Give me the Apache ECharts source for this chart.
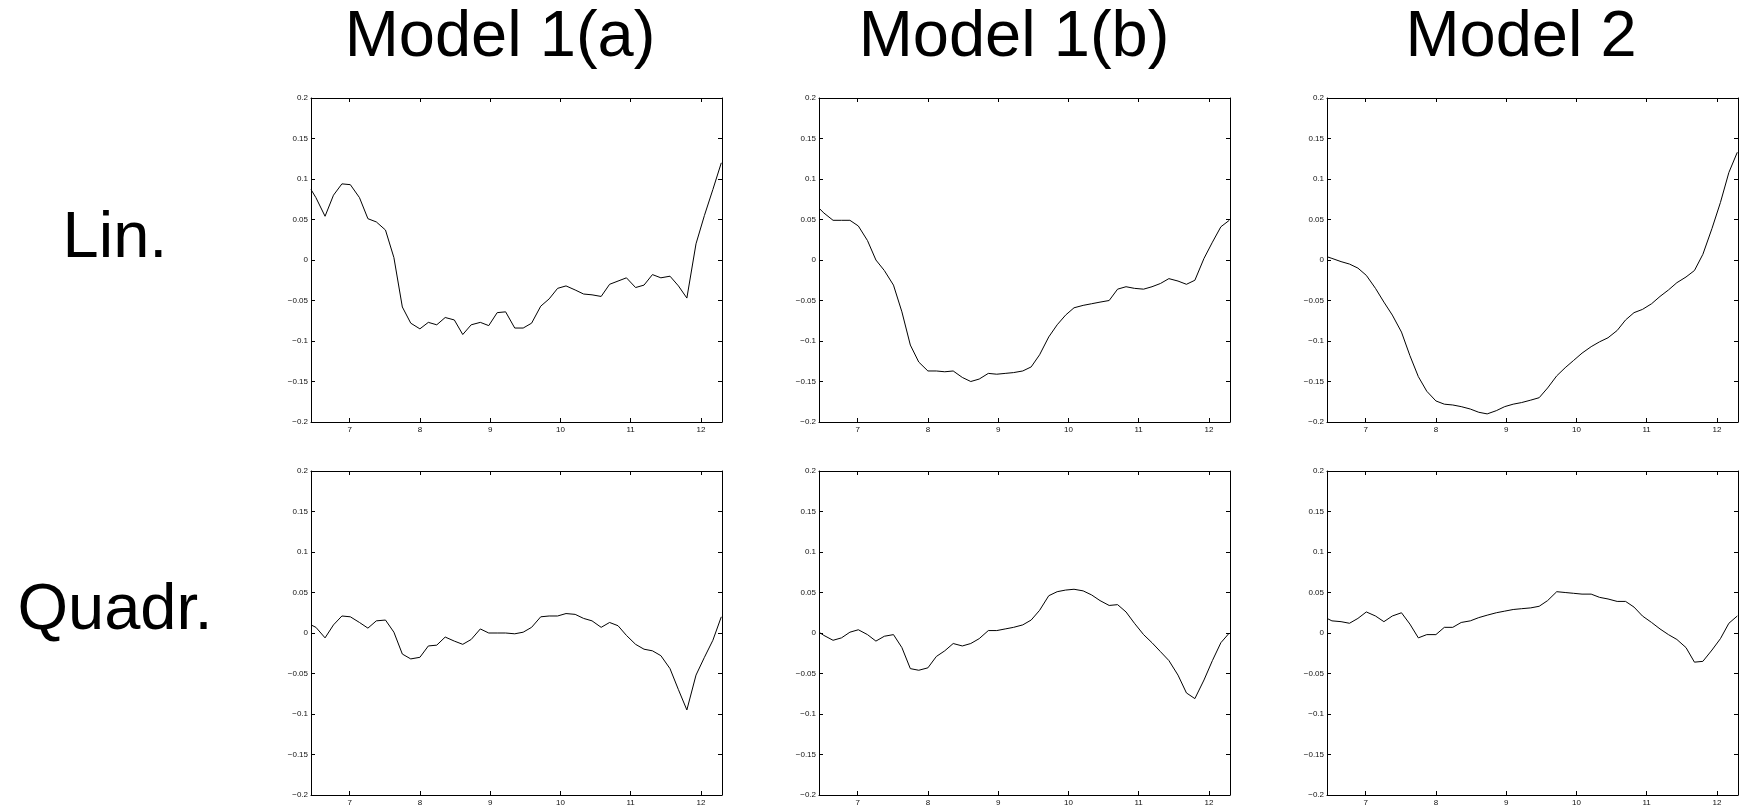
<!DOCTYPE html>
<html>
<head>
<meta charset="utf-8">
<script src="https://cdn.jsdelivr.net/npm/echarts@6/dist/echarts.min.js"></script>
<style>
  html, body { margin: 0; background: #fff; }
  #chart { width: 1744px; height: 808px; }
</style>
</head>
<body>
<div id="chart"></div>
<script>
// shared x positions
const xs = [6.45, 6.52, 6.65, 6.77, 6.89, 7.01, 7.14, 7.26, 7.38, 7.51, 7.63, 7.75, 7.87, 8.00,
  8.12, 8.24, 8.36, 8.49, 8.61, 8.73, 8.86, 8.98, 9.10, 9.22, 9.35, 9.47, 9.59, 9.72, 9.84, 9.96,
  10.08, 10.21, 10.33, 10.45, 10.58, 10.70, 10.82, 10.94, 11.07, 11.19, 11.31, 11.43, 11.56,
  11.68, 11.80, 11.93, 12.05, 12.17, 12.29];

const xTicks = [7, 8, 9, 10, 11, 12];
const yTicks = [-0.2, -0.15, -0.1, -0.05, 0, 0.05, 0.1, 0.15, 0.2];
const colTitles = ["Model 1(a)", "Model 1(b)", "Model 2"];
const rowTitles = ["Lin.", "Quadr."];

// Lin. row
const linA = [0.087, 0.077, 0.054, 0.080, 0.094, 0.093, 0.077, 0.051, 0.047, 0.037, 0.003, -0.058,
  -0.078, -0.085, -0.077, -0.080, -0.071, -0.074, -0.092, -0.080, -0.077, -0.081, -0.065, -0.064,
  -0.084, -0.084, -0.078, -0.057, -0.048, -0.035, -0.032, -0.037, -0.042, -0.043, -0.045, -0.030,
  -0.026, -0.022, -0.034, -0.031, -0.018, -0.022, -0.020, -0.032, -0.047, 0.020, 0.055, 0.087, 0.120];
const linB = [0.064, 0.058, 0.049, 0.049, 0.049, 0.042, 0.024, 0.000, -0.013, -0.031, -0.064, -0.105,
  -0.126, -0.137, -0.137, -0.138, -0.137, -0.145, -0.150, -0.147, -0.140, -0.141, -0.140, -0.139,
  -0.137, -0.132, -0.117, -0.095, -0.080, -0.068, -0.059, -0.056, -0.054, -0.052, -0.050, -0.036,
  -0.033, -0.035, -0.036, -0.033, -0.029, -0.023, -0.026, -0.030, -0.025, 0.002, 0.022, 0.041, 0.049];
const linM2 = [0.004, 0.002, -0.002, -0.005, -0.010, -0.019, -0.035, -0.052, -0.068, -0.089, -0.118,
  -0.144, -0.162, -0.174, -0.178, -0.179, -0.181, -0.184, -0.188, -0.190, -0.186, -0.181, -0.178,
  -0.176, -0.173, -0.170, -0.158, -0.143, -0.133, -0.124, -0.115, -0.107, -0.101, -0.096, -0.087,
  -0.074, -0.065, -0.061, -0.054, -0.045, -0.037, -0.028, -0.021, -0.013, 0.007, 0.039, 0.071, 0.108, 0.133];

// Quadr. row
const quadA = [0.010, 0.007, -0.006, 0.010, 0.021, 0.020, 0.013, 0.006, 0.015, 0.016, 0.001, -0.026,
  -0.032, -0.030, -0.016, -0.015, -0.005, -0.010, -0.014, -0.008, 0.005, 0.000, 0.000, 0.000,
  -0.001, 0.001, 0.007, 0.020, 0.021, 0.021, 0.024, 0.023, 0.018, 0.015, 0.007, 0.013, 0.009,
  -0.003, -0.014, -0.020, -0.022, -0.028, -0.044, -0.070, -0.095, -0.052, -0.030, -0.009, 0.020];
const quadB = [0.001, -0.003, -0.009, -0.006, 0.001, 0.004, -0.002, -0.010, -0.004, -0.002, -0.018,
  -0.044, -0.046, -0.043, -0.029, -0.022, -0.013, -0.016, -0.013, -0.007, 0.003, 0.003, 0.005,
  0.007, 0.010, 0.016, 0.028, 0.046, 0.051, 0.053, 0.054, 0.052, 0.047, 0.040, 0.034, 0.035, 0.026,
  0.012, -0.002, -0.012, -0.023, -0.034, -0.052, -0.074, -0.081, -0.058, -0.034, -0.012, 0.000];
const quadM2 = [0.018, 0.015, 0.014, 0.012, 0.018, 0.026, 0.021, 0.014, 0.021, 0.025, 0.011, -0.006,
  -0.002, -0.002, 0.007, 0.007, 0.013, 0.015, 0.019, 0.022, 0.025, 0.027, 0.029, 0.030, 0.031,
  0.033, 0.040, 0.051, 0.050, 0.049, 0.048, 0.048, 0.044, 0.042, 0.039, 0.039, 0.032, 0.021, 0.013,
  0.005, -0.002, -0.008, -0.018, -0.036, -0.035, -0.021, -0.007, 0.012, 0.021];

const panels = [linA, linB, linM2, quadA, quadB, quadM2];

const lefts = [311, 819, 1327];
const tops = [98, 471];
const W = 411, H = 324;
const titleX = [500, 1014, 1521];
const rowY = [239, 611];
const font = "Liberation Sans";

const lineStyle = { color: "#000", width: 1 };

function yLabel(v) {
  const r = Math.round(v * 100) / 100;
  return r < 0 ? "\u2212" + (-r) : String(r);
}

const grid = [], xAxis = [], yAxis = [], series = [];
panels.forEach((data, i) => {
  const row = Math.floor(i / 3), col = i % 3;
  grid.push({ left: lefts[col], top: tops[row], width: W, height: H });
  // bottom + top x axes
  ["bottom", "top"].forEach((pos) => {
    xAxis.push({
      type: "value", gridIndex: i, position: pos, min: 6.45, max: 12.3,
      axisLine: { show: true, onZero: false, lineStyle },
      axisTick: { show: true, inside: true, length: 4, lineStyle, customValues: xTicks },
      axisLabel: {
        show: pos === "bottom", customValues: xTicks, margin: 4,
        fontSize: 8, color: "#111", fontFamily: font,
      },
      splitLine: { show: false },
    });
  });
  ["left", "right"].forEach((pos) => {
    yAxis.push({
      type: "value", gridIndex: i, position: pos, min: -0.2, max: 0.2, interval: 0.05,
      axisLine: { show: true, onZero: false, lineStyle },
      axisTick: { show: true, inside: true, length: 4, lineStyle },
      axisLabel: {
        show: pos === "left", margin: 3, fontSize: 8, color: "#111", fontFamily: font,
        formatter: yLabel,
      },
      splitLine: { show: false },
    });
  });
  series.push({
    type: "line",
    xAxisIndex: 2 * i,
    yAxisIndex: 2 * i,
    data: xs.map((x, j) => [x, data[j]]),
    showSymbol: false,
    lineStyle: { color: "#000", width: 1 },
    clip: true,
  });
});

const graphic = [];
colTitles.forEach((t, c) => {
  graphic.push({
    type: "text", x: titleX[c], y: 38,
    style: { text: t, font: "65px '" + font + "'", fill: "#000", align: "center", verticalAlign: "middle" },
  });
});
rowTitles.forEach((t, r) => {
  graphic.push({
    type: "text", x: 115, y: rowY[r],
    style: { text: t, font: "65px '" + font + "'", fill: "#000", align: "center", verticalAlign: "middle" },
  });
});

const chart = echarts.init(document.getElementById("chart"));
chart.setOption({
  animation: false,
  backgroundColor: "#fff",
  grid, xAxis, yAxis, series, graphic,
});
</script>
</body>
</html>
